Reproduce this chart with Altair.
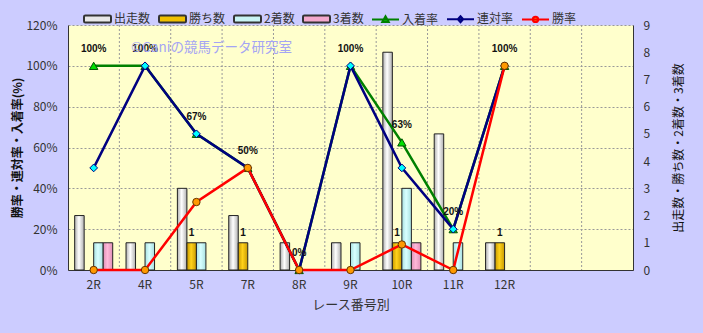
import altair as alt
import pandas as pd

# ---------------- data ----------------
races = ["2R", "4R", "5R", "7R", "8R", "9R", "10R", "11R", "12R"]
empty_slots = [" ", "  "]
starts = [2, 1, 3, 2, 1, 1, 8, 5, 1]          # 出走数
wins = [0, 0, 1, 1, 0, 0, 1, 0, 1]            # 勝ち数
seconds = [1, 1, 1, 0, 0, 1, 3, 1, 0]         # 2着数
thirds = [1, 0, 0, 0, 0, 0, 1, 0, 0]          # 3着数
place_rate = [1.0, 1.0, 0.667, 0.5, 0.0, 1.0, 0.625, 0.2, 1.0]     # 入着率
quinella_rate = [0.5, 1.0, 0.667, 0.5, 0.0, 1.0, 0.5, 0.2, 1.0]    # 連対率
win_rate = [0.0, 0.0, 0.333, 0.5, 0.0, 0.0, 0.125, 0.0, 1.0]       # 勝率

bar_series = ["出走数", "勝ち数", "2着数", "3着数"]
line_series = ["入着率", "連対率", "勝率"]
all_series = bar_series + line_series

FONT = "Noto Sans CJK JP"

bars_df = pd.DataFrame(
    [(r, s, v) for s, vals in zip(bar_series, [starts, wins, seconds, thirds])
     for r, v in zip(races, vals)],
    columns=["race", "series", "count"])
rates_df = pd.DataFrame(
    [(r, s, v) for s, vals in zip(line_series, [place_rate, quinella_rate, win_rate])
     for r, v in zip(races, vals)],
    columns=["race", "series", "value"])
cats_df = pd.DataFrame({"race": races[1:] + empty_slots})
legend_df = pd.DataFrame({"race": ["2R"] * len(all_series), "series": all_series,
                          "value": [0.0] * len(all_series)})

# ---------------- shared encodings ----------------
x_scale = alt.Scale(domain=races + empty_slots, paddingInner=0, paddingOuter=0)
x_axis = alt.Axis(title="レース番号別", labelAngle=0, ticks=False, grid=False,
                  domainColor="#333333", labelFontSize=12, labelColor="#333333",
                  labelFont=FONT, labelPadding=9, titleFont=FONT, titleFontSize=13,
                  titleColor="#333333", titleFontWeight="normal", titlePadding=8)
X = alt.X("race:N", scale=x_scale, axis=x_axis)

y_left = alt.Y("value:Q", scale=alt.Scale(domain=[0, 1.2], nice=False),
               axis=alt.Axis(orient="left", format=".0%",
                             values=[0, 0.2, 0.4, 0.6, 0.8, 1.0, 1.2],
                             title="勝率・連対率・入着率(%)", grid=True,
                             gridDash=[2, 2], gridColor="#999999", ticks=False,
                             domainColor="#333333", labelFontSize=12,
                             labelColor="#333333", labelFont=FONT, labelPadding=11,
                             titleFont=FONT, titleFontSize=12, titleFontWeight="bold",
                             titleColor="#111111", titlePadding=1))
y_right = alt.Y("count:Q", scale=alt.Scale(domain=[0, 9], nice=False),
                axis=alt.Axis(orient="right", values=list(range(10)),
                              title="出走数・勝ち数・2着数・3着数", grid=False,
                              ticks=False, domainColor="#333333", labelFontSize=12,
                              labelColor="#333333", labelFont=FONT, labelPadding=10,
                              titleFont=FONT, titleFontSize=12, titleFontWeight="normal",
                              titleColor="#111111", titleAngle=270, titlePadding=36))
x_off = alt.XOffset("series:N", scale=alt.Scale(domain=bar_series,
                                                paddingOuter=0.7, paddingInner=0))


def grad(edge, mid):
    return alt.LinearGradient(
        gradient="linear", x1=0, x2=1, y1=0, y2=0,
        stops=[alt.GradientStop(color=edge, offset=0),
               alt.GradientStop(color=mid, offset=0.45),
               alt.GradientStop(color=edge, offset=1)])


bar_fills = {
    "出走数": grad("#B0B0B0", "#FFFFFF"),
    "勝ち数": grad("#C89A00", "#FFD21A"),
    "2着数": grad("#A8E0E0", "#D8FFFF"),
    "3着数": grad("#E090B8", "#FFB8D8"),
}

# vertical grid at category boundaries
vgrid = alt.Chart(cats_df).mark_rule(color="#999999", strokeDash=[2, 2],
                                     strokeWidth=1).encode(
    x=alt.X("race:N", scale=x_scale, axis=x_axis, bandPosition=0))

bar_layers = []
for s in bar_series:
    bar_layers.append(
        alt.Chart(bars_df).transform_filter(
            (alt.datum.series == s) & (alt.datum.count > 0)
        ).mark_bar(fill=bar_fills[s], stroke="#222222", strokeWidth=1).encode(
            x=X, xOffset=x_off, y=y_right))

win_labels = alt.Chart(bars_df).transform_filter(
    (alt.datum.series == "勝ち数") & (alt.datum.count > 0)
).mark_text(baseline="bottom", dy=-5, fontSize=10, fontWeight="bold",
            font="Liberation Sans", color="#111111").encode(
    x=X, xOffset=x_off, y=y_right, text="count:Q")

bars_group = alt.layer(vgrid, *bar_layers, win_labels)

line_styles = {
    "入着率": dict(color="#008000", shape="triangle-up", fill="#00E000",
                 stroke="#005000", size=70),
    "連対率": dict(color="#000080", shape="diamond", fill="#00FFFF",
                 stroke="#000080", size=60),
    "勝率": dict(color="#FF0000", shape="circle", fill="#FF9900",
                stroke="#663300", size=55),
}

line_layers = []
for s in line_series:
    st = line_styles[s]
    base = alt.Chart(rates_df).transform_filter(alt.datum.series == s)
    line_layers.append(base.mark_line(color=st["color"], strokeWidth=2.5).encode(
        x=X, y=y_left))
    line_layers.append(base.mark_point(shape=st["shape"], filled=True, fill=st["fill"],
                                       stroke=st["stroke"], strokeWidth=1,
                                       size=st["size"], opacity=1).encode(
        x=X, y=y_left))

place_labels = alt.Chart(rates_df).transform_filter(
    alt.datum.series == "入着率"
).mark_text(baseline="middle", dy=-17, fontSize=10, fontWeight="bold",
            font="Liberation Sans", color="#111111").encode(
    x=X, y=y_left, text=alt.Text("value:Q", format=".0%"))

# legend carrier (invisible points, legend drawn by Vega)
bar_sym = ("M-0.9,-0.26H0.9Q1,-0.26 1,-0.16V0.16Q1,0.26 0.9,0.26H-0.9"
           "Q-1,0.26 -1,0.16V-0.16Q-1,-0.26 -0.9,-0.26Z")
tri_sym = "M-1,0H1M0,-0.24L0.24,0.18L-0.24,0.18Z"
dia_sym = "M-1,0H1M0,-0.22L0.2,0L0,0.22L-0.2,0Z"
cir_sym = "M-1,0H1M0.2,0A0.2,0.2 0 1,1 -0.2,0A0.2,0.2 0 1,1 0.2,0Z"
legend_fills = ["#E8E8E8", "#F0C000", "#C8F4F4", "#F4A8CC",
                "#00E000", "#00FFFF", "#FF9900"]
legend_strokes = ["#333333", "#333333", "#333333", "#333333",
                  "#008000", "#000080", "#FF0000"]
legend_shapes = [bar_sym, bar_sym, bar_sym, bar_sym, tri_sym, dia_sym, cir_sym]

leg = alt.Legend(orient="none", legendX=15, legendY=-21, direction="horizontal",
                 title=None, symbolSize=729, symbolStrokeWidth=2, symbolOpacity=1,
                 labelFont=FONT, labelFontSize=12, labelColor="#333333",
                 labelOffset=2, columnPadding=4)
legend_layer = alt.Chart(legend_df).mark_point(filled=True, opacity=0).encode(
    x=X, y=y_left,
    fill=alt.Fill("series:N", scale=alt.Scale(domain=all_series, range=legend_fills),
                  legend=leg),
    stroke=alt.Stroke("series:N",
                      scale=alt.Scale(domain=all_series, range=legend_strokes),
                      legend=leg),
    shape=alt.Shape("series:N", scale=alt.Scale(domain=all_series, range=legend_shapes),
                    legend=leg),
)

lines_group = alt.layer(*line_layers, place_labels, legend_layer)

chart = alt.layer(bars_group, lines_group).resolve_scale(
    y="independent"
).properties(
    width=565, height=245,
    background="#CCCCFF",
    padding={"left": 68, "top": 25, "right": 70, "bottom": 63},
    autosize=alt.AutoSizeParams(type="none"),
    title=alt.TitleParams(text="©Caniの競馬データ研究室", anchor="start",
                          frame="group", orient="top", offset=0, dx=63, dy=57,
                          baseline="middle", fontSize=13.5, fontWeight="normal",
                          font=FONT, color="#A4A4F4"),
).configure_view(fill="#FFFFCC", stroke="transparent")

chart.save("out.html", embed_options={"renderer": "svg", "actions": False})
